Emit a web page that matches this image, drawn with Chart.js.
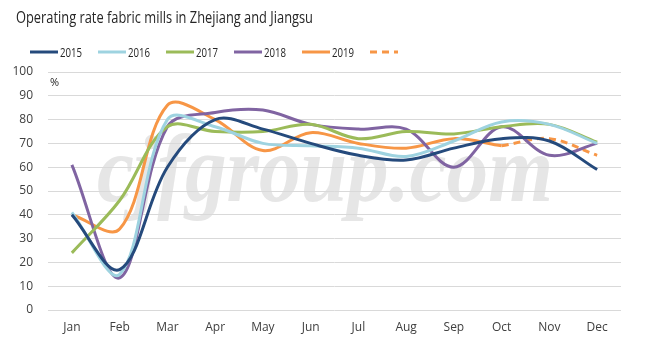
<!DOCTYPE html>
<html>
<head>
<meta charset="utf-8">
<script src="https://cdn.jsdelivr.net/npm/chart.js@4"></script>
<style>
html,body{margin:0;padding:0;background:#fff;}
#wrap{width:659px;height:356px;position:relative;}
</style>
</head>
<body>
<div id="wrap"><canvas id="c" width="659" height="356"></canvas></div>
<script>
const chartTitle = 'Operating rate fabric mills in Zhejiang and Jiangsu';
const months = ['Jan','Feb','Mar','Apr','May','Jun','Jul','Aug','Sep','Oct','Nov','Dec'];
const yTicks = [0,10,20,30,40,50,60,70,80,90,100];
const y2015 = [40, 17, 60, 80, 76, 70, 65, 63, 68, 72, 71, 59];
const y2016 = [41, 15, 80, 77, 70, 69, 68, 64.5, 71, 79, 78, 70];
const y2017 = [24, 46, 77, 75, 75, 78, 72, 75, 74, 77, 78, 70.5];
const y2018 = [61, 13.5, 77, 83, 84, 78, 76, 76, 60, 77, 65, 70];
const y2019 = [40, 34, 86, 80, 67, 74.5, 70, 68, 72, 69, null, null];
const y2019f = [null, null, null, null, null, null, null, null, null, 69, 72, 65];
const seriesNames = ['2015','2016','2017','2018','2019',''];

const colors = ['#254a7c','#9ed3e0','#9bbb59','#8064a2','#f79646','#f79646'];
const allData = [y2015,y2016,y2017,y2018,y2019,y2019f];

const datasets = allData.map((d,i)=>({
  label: seriesNames[i],
  data: d,
  borderColor: colors[i],
  backgroundColor: colors[i],
  borderWidth: 3,
  borderDash: i===5 ? [7,5] : [],
  pointRadius: 0,
  tension: 0.35,
  fill: false,
  spanGaps: false
}));

const decor = {
  id: 'decor',
  beforeDraw(chart){
    const ctx = chart.ctx;
    ctx.save();
    ctx.fillStyle = '#e6e6e6';
    ctx.font = 'italic bold 96px "Liberation Serif", "DejaVu Serif", serif';
    ctx.textBaseline = 'alphabetic';
    ctx.fillText('cjfgroup.com', 97, 201, 456);
    ctx.restore();
  },
  afterDraw(chart){
    const ctx = chart.ctx;
    ctx.save();
    // title
    ctx.fillStyle = '#262626';
    ctx.font = '17px "Open Sans", sans-serif';
    ctx.textBaseline = 'alphabetic';
    ctx.fillText(chartTitle, 16, 23, 297);
    // legend
    let x = 30;
    const y = 52;
    chart.data.datasets.forEach((ds,i)=>{
      ctx.strokeStyle = ds.borderColor;
      ctx.lineWidth = 3;
      ctx.setLineDash(ds.borderDash || []);
      ctx.beginPath();
      ctx.moveTo(x, y);
      ctx.lineTo(x+28, y);
      ctx.stroke();
      ctx.setLineDash([]);
      if (ds.label) {
        ctx.fillStyle = '#262626';
        ctx.font = '13px "Open Sans", sans-serif';
        ctx.textBaseline = 'middle';
        ctx.fillText(ds.label, x+30, y+1, 22);
      }
      x += 68;
    });
    // unit
    const ys = chart.scales.y;
    ctx.fillStyle = '#262626';
    ctx.font = '11px "Open Sans", sans-serif';
    ctx.textBaseline = 'middle';
    ctx.fillText('%', chart.chartArea.left + 2, ys.getPixelForValue(100) + 11);
    ctx.restore();
  }
};

new Chart(document.getElementById('c'), {
  type: 'line',
  data: { labels: months, datasets },
  options: {
    responsive: false,
    animation: false,
    layout: { padding: { top: 72, right: 38, bottom: 0, left: 0 } },
    plugins: { legend: { display: false }, title: { display: false }, tooltip: { enabled: false } },
    scales: {
      x: {
        offset: true,
        grid: { display: false, drawTicks: false },
        border: { display: false },
        ticks: { color: '#404040', font: { family: 'Open Sans', size: 12 }, padding: 10, maxRotation: 0 },
        afterFit(s){ s.height = 46; }
      },
      y: {
        min: 0, max: 100,
        afterBuildTicks(s){ s.ticks = yTicks.map(v=>({value:v})); },
        grid: { color: '#d9d9d9', lineWidth: 1, drawTicks: false },
        border: { display: false },
        ticks: { color: '#404040', font: { family: 'Open Sans', size: 12 }, padding: 15 },
        afterFit(s){ s.width = 48; }
      }
    }
  },
  plugins: [decor]
});
</script>
</body>
</html>
